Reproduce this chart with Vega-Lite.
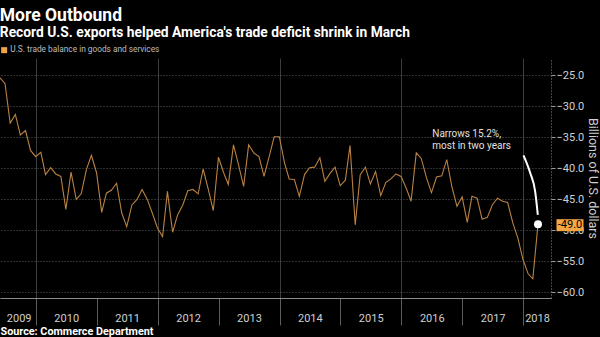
{
  "$schema": "https://vega.github.io/schema/vega-lite/v6.json",
  "width": 551,
  "height": 240,
  "autosize": {"type": "none"},
  "padding": {"left": 0, "top": 58, "right": 49, "bottom": 39},
  "background": "#000000",
  "title": {
    "text": "More Outbound",
    "subtitle": "Record U.S. exports helped America's trade deficit shrink in March",
    "anchor": "start",
    "font": "Roboto",
    "subtitleFont": "Roboto",
    "fontSize": 17.5,
    "subtitleFontSize": 13.8,
    "fontWeight": "bold",
    "subtitleFontWeight": "bold",
    "color": "#ffffff",
    "subtitleColor": "#ffffff",
    "offset": 6,
    "subtitlePadding": 2,
    "dx": 2
  },
  "config": {
    "font": "Roboto",
    "view": {"stroke": null},
    "axis": {"labelFont": "Roboto", "titleFont": "Roboto"}
  },
  "datasets": {
    "trade": [
      {"date": "2009-05-31", "value": -25.4},
      {"date": "2009-06-30", "value": -26.3},
      {"date": "2009-07-31", "value": -32.7},
      {"date": "2009-08-31", "value": -31.3},
      {"date": "2009-09-30", "value": -34.6},
      {"date": "2009-10-31", "value": -33.9},
      {"date": "2009-11-30", "value": -37.1},
      {"date": "2009-12-31", "value": -38.1},
      {"date": "2010-01-31", "value": -37.4},
      {"date": "2010-02-28", "value": -41.0},
      {"date": "2010-03-31", "value": -39.9},
      {"date": "2010-04-30", "value": -40.9},
      {"date": "2010-05-31", "value": -41.3},
      {"date": "2010-06-30", "value": -46.6},
      {"date": "2010-07-31", "value": -40.6},
      {"date": "2010-08-31", "value": -45.0},
      {"date": "2010-09-30", "value": -44.1},
      {"date": "2010-10-31", "value": -40.2},
      {"date": "2010-11-30", "value": -37.9},
      {"date": "2010-12-31", "value": -40.7},
      {"date": "2011-01-31", "value": -47.1},
      {"date": "2011-02-28", "value": -44.0},
      {"date": "2011-03-31", "value": -43.5},
      {"date": "2011-04-30", "value": -42.4},
      {"date": "2011-05-31", "value": -47.2},
      {"date": "2011-06-30", "value": -49.4},
      {"date": "2011-07-31", "value": -45.9},
      {"date": "2011-08-31", "value": -45.0},
      {"date": "2011-09-30", "value": -43.4},
      {"date": "2011-10-31", "value": -45.0},
      {"date": "2011-11-30", "value": -47.2},
      {"date": "2011-12-31", "value": -49.6},
      {"date": "2012-01-31", "value": -51.0},
      {"date": "2012-02-29", "value": -43.7},
      {"date": "2012-03-31", "value": -50.3},
      {"date": "2012-04-30", "value": -47.5},
      {"date": "2012-05-31", "value": -45.9},
      {"date": "2012-06-30", "value": -43.6},
      {"date": "2012-07-31", "value": -43.4},
      {"date": "2012-08-31", "value": -44.1},
      {"date": "2012-09-30", "value": -40.1},
      {"date": "2012-10-31", "value": -43.4},
      {"date": "2012-11-30", "value": -46.8},
      {"date": "2012-12-31", "value": -38.2},
      {"date": "2013-01-31", "value": -40.7},
      {"date": "2013-02-28", "value": -42.6},
      {"date": "2013-03-31", "value": -36.2},
      {"date": "2013-04-30", "value": -39.4},
      {"date": "2013-05-31", "value": -42.9},
      {"date": "2013-06-30", "value": -36.2},
      {"date": "2013-07-31", "value": -37.5},
      {"date": "2013-08-31", "value": -38.1},
      {"date": "2013-09-30", "value": -41.3},
      {"date": "2013-10-31", "value": -38.1},
      {"date": "2013-11-30", "value": -34.9},
      {"date": "2013-12-31", "value": -34.9},
      {"date": "2014-01-31", "value": -39.1},
      {"date": "2014-02-28", "value": -41.7},
      {"date": "2014-03-31", "value": -41.8},
      {"date": "2014-04-30", "value": -44.5},
      {"date": "2014-05-31", "value": -41.0},
      {"date": "2014-06-30", "value": -39.9},
      {"date": "2014-07-31", "value": -39.8},
      {"date": "2014-08-31", "value": -38.3},
      {"date": "2014-09-30", "value": -42.1},
      {"date": "2014-10-31", "value": -40.8},
      {"date": "2014-11-30", "value": -39.8},
      {"date": "2014-12-31", "value": -42.8},
      {"date": "2015-01-31", "value": -41.9},
      {"date": "2015-02-28", "value": -36.3},
      {"date": "2015-03-31", "value": -49.1},
      {"date": "2015-04-30", "value": -41.0},
      {"date": "2015-05-31", "value": -39.8},
      {"date": "2015-06-30", "value": -42.5},
      {"date": "2015-07-31", "value": -40.5},
      {"date": "2015-08-31", "value": -44.4},
      {"date": "2015-09-30", "value": -42.3},
      {"date": "2015-10-31", "value": -41.7},
      {"date": "2015-11-30", "value": -40.9},
      {"date": "2015-12-31", "value": -41.3},
      {"date": "2016-01-31", "value": -43.2},
      {"date": "2016-02-29", "value": -45.3},
      {"date": "2016-03-31", "value": -37.5},
      {"date": "2016-04-30", "value": -38.4},
      {"date": "2016-05-31", "value": -41.5},
      {"date": "2016-06-30", "value": -43.9},
      {"date": "2016-07-31", "value": -41.4},
      {"date": "2016-08-31", "value": -41.2},
      {"date": "2016-09-30", "value": -38.6},
      {"date": "2016-10-31", "value": -43.0},
      {"date": "2016-11-30", "value": -46.1},
      {"date": "2016-12-31", "value": -44.6},
      {"date": "2017-01-31", "value": -48.7},
      {"date": "2017-02-28", "value": -44.5},
      {"date": "2017-03-31", "value": -44.8},
      {"date": "2017-04-30", "value": -48.2},
      {"date": "2017-05-31", "value": -47.9},
      {"date": "2017-06-30", "value": -45.9},
      {"date": "2017-07-31", "value": -44.8},
      {"date": "2017-08-31", "value": -45.3},
      {"date": "2017-09-30", "value": -45.5},
      {"date": "2017-10-31", "value": -48.8},
      {"date": "2017-11-30", "value": -51.2},
      {"date": "2017-12-31", "value": -54.7},
      {"date": "2018-01-31", "value": -57.0},
      {"date": "2018-02-28", "value": -57.8},
      {"date": "2018-03-31", "value": -49.0}
    ],
    "last": [{"date": "2018-03-31", "value": -49.0, "label": "-49.0"}],
    "arc": [
      {"date": "2018-01-03", "value": -37.9},
      {"date": "2018-02-12", "value": -40.7},
      {"date": "2018-03-14", "value": -43.7},
      {"date": "2018-03-30", "value": -47.5}
    ],
    "note": [{"date": "2016-07-05", "value": -34.48, "text": ["Narrows 15.2%,", "most in two years"]}]
  },
  "layer": [
    {
      "data": {"name": "trade"},
      "mark": {"type": "line", "strokeWidth": 1.1},
      "encoding": {
        "x": {
          "field": "date",
          "type": "temporal",
          "scale": {"domain": [{"year": 2009, "month": 5, "date": 31}, {"year": 2018, "month": 6, "date": 17}]},
          "axis": {
            "orient": "bottom",
            "values": [
              {"year": 2010, "month": 1, "date": 1},
              {"year": 2011, "month": 1, "date": 1},
              {"year": 2012, "month": 1, "date": 1},
              {"year": 2013, "month": 1, "date": 1},
              {"year": 2014, "month": 1, "date": 1},
              {"year": 2015, "month": 1, "date": 1},
              {"year": 2016, "month": 1, "date": 1},
              {"year": 2017, "month": 1, "date": 1},
              {"year": 2018, "month": 1, "date": 1}
            ],
            "labels": false,
            "grid": false,
            "domain": true,
            "domainColor": "#8c8c8c",
            "ticks": true,
            "tickSize": 27,
            "tickColor": "#5c5c5c",
            "title": null
          }
        },
        "y": {
          "field": "value",
          "type": "quantitative",
          "scale": {"domain": [-60.9, -22.2], "nice": false, "zero": false},
          "axis": {
            "orient": "right",
            "values": [-25, -30, -35, -40, -45, -50, -55, -60],
            "format": ".1f",
            "grid": true,
            "gridDash": [1, 2],
            "gridColor": "#5a5a5a",
            "domain": true,
            "domainDash": [1, 2],
            "domainColor": "#8a8a8a",
            "ticks": true,
            "tickSize": 4,
            "tickColor": "#9a9a9a",
            "labelColor": "#d0d0d0",
            "labelFontSize": 11,
            "labelPadding": 1,
            "title": "Billions of U.S. dollars",
            "titleColor": "#d0d0d0",
            "titleFontSize": 12.5,
            "titleFontWeight": "normal",
            "titlePadding": 2
          }
        },
        "color": {
          "datum": "U.S. trade balance in goods and services",
          "scale": {"range": ["#b98142"]},
          "legend": {
            "orient": "top",
            "title": null,
            "symbolType": "square",
            "symbolFillColor": "#f0a446",
            "symbolStrokeColor": "#f0a446",
            "symbolStrokeWidth": 0,
            "symbolSize": 36,
            "labelColor": "#bdbdbd",
            "labelFontSize": 8.3,
            "labelFont": "Roboto",
            "labelLimit": 400,
            "labelOffset": 2,
            "padding": 0,
            "offset": 4
          }
        }
      }
    },
    {
      "data": {"name": "arc"},
      "mark": {"type": "line", "color": "#ffffff", "strokeWidth": 2, "interpolate": "monotone"},
      "encoding": {
        "x": {
          "field": "date",
          "type": "temporal",
          "scale": {"domain": [{"year": 2009, "month": 5, "date": 31}, {"year": 2018, "month": 6, "date": 17}]},
          "axis": {
            "orient": "bottom",
            "values": [
              {"year": 2009, "month": 9, "date": 20},
              {"year": 2010, "month": 7, "date": 2},
              {"year": 2011, "month": 7, "date": 2},
              {"year": 2012, "month": 7, "date": 2},
              {"year": 2013, "month": 7, "date": 2},
              {"year": 2014, "month": 7, "date": 2},
              {"year": 2015, "month": 7, "date": 2},
              {"year": 2016, "month": 7, "date": 2},
              {"year": 2017, "month": 7, "date": 2},
              {"year": 2018, "month": 3, "date": 25}
            ],
            "format": "%Y",
            "labelOverlap": false,
            "labelFlush": false,
            "ticks": false,
            "domain": false,
            "grid": false,
            "labelPadding": 14,
            "labelColor": "#d0d0d0",
            "labelFontSize": 11,
            "title": "Source: Commerce Department",
            "titleAnchor": "start",
            "titleFontWeight": "bold",
            "titleColor": "#ffffff",
            "titleFontSize": 10.8,
            "titlePadding": 2
          }
        },
        "y": {"field": "value", "type": "quantitative", "scale": {"domain": [-60.9, -22.2], "nice": false, "zero": false}, "axis": null}
      }
    },
    {
      "data": {"name": "last"},
      "mark": {"type": "point", "filled": true, "color": "#ffffff", "size": 64, "opacity": 1},
      "encoding": {
        "x": {
          "field": "date",
          "type": "temporal",
          "scale": {"domain": [{"year": 2009, "month": 5, "date": 31}, {"year": 2018, "month": 6, "date": 17}]},
          "axis": {
            "orient": "bottom",
            "values": [
              {"year": 2010, "month": 1, "date": 1},
              {"year": 2012, "month": 1, "date": 1},
              {"year": 2014, "month": 1, "date": 1},
              {"year": 2016, "month": 1, "date": 1},
              {"year": 2018, "month": 1, "date": 1}
            ],
            "grid": true,
            "gridColor": "#3c3c3c",
            "labels": false,
            "ticks": false,
            "domain": false,
            "title": null
          }
        },
        "y": {"field": "value", "type": "quantitative", "scale": {"domain": [-60.9, -22.2], "nice": false, "zero": false}, "axis": null}
      }
    },
    {
      "data": {"name": "last"},
      "mark": {"type": "point", "filled": true, "color": "#f5a645", "opacity": 1, "size": 729, "shape": "M-1,-0.444H1V0.444H-1Z", "xOffset": 32, "yOffset": 1},
      "encoding": {
        "x": {"field": "date", "type": "temporal", "scale": {"domain": [{"year": 2009, "month": 5, "date": 31}, {"year": 2018, "month": 6, "date": 17}]}, "axis": null},
        "y": {"field": "value", "type": "quantitative", "scale": {"domain": [-60.9, -22.2], "nice": false, "zero": false}, "axis": null}
      }
    },
    {
      "data": {"name": "last"},
      "mark": {"type": "text", "color": "#000000", "fontSize": 11, "align": "center", "baseline": "middle", "xOffset": 32, "yOffset": 1},
      "encoding": {
        "x": {"field": "date", "type": "temporal", "scale": {"domain": [{"year": 2009, "month": 5, "date": 31}, {"year": 2018, "month": 6, "date": 17}]}, "axis": null},
        "y": {"field": "value", "type": "quantitative", "scale": {"domain": [-60.9, -22.2], "nice": false, "zero": false}, "axis": null},
        "text": {"field": "label"}
      }
    },
    {
      "data": {"name": "note"},
      "mark": {"type": "text", "color": "#e0e0e0", "fontSize": 10, "align": "left", "baseline": "middle", "lineHeight": 12},
      "encoding": {
        "x": {"field": "date", "type": "temporal", "scale": {"domain": [{"year": 2009, "month": 5, "date": 31}, {"year": 2018, "month": 6, "date": 17}]}, "axis": null},
        "y": {"field": "value", "type": "quantitative", "scale": {"domain": [-60.9, -22.2], "nice": false, "zero": false}, "axis": null},
        "text": {"field": "text"}
      }
    }
  ],
  "resolve": {"axis": {"x": "independent", "y": "independent"}}
}
